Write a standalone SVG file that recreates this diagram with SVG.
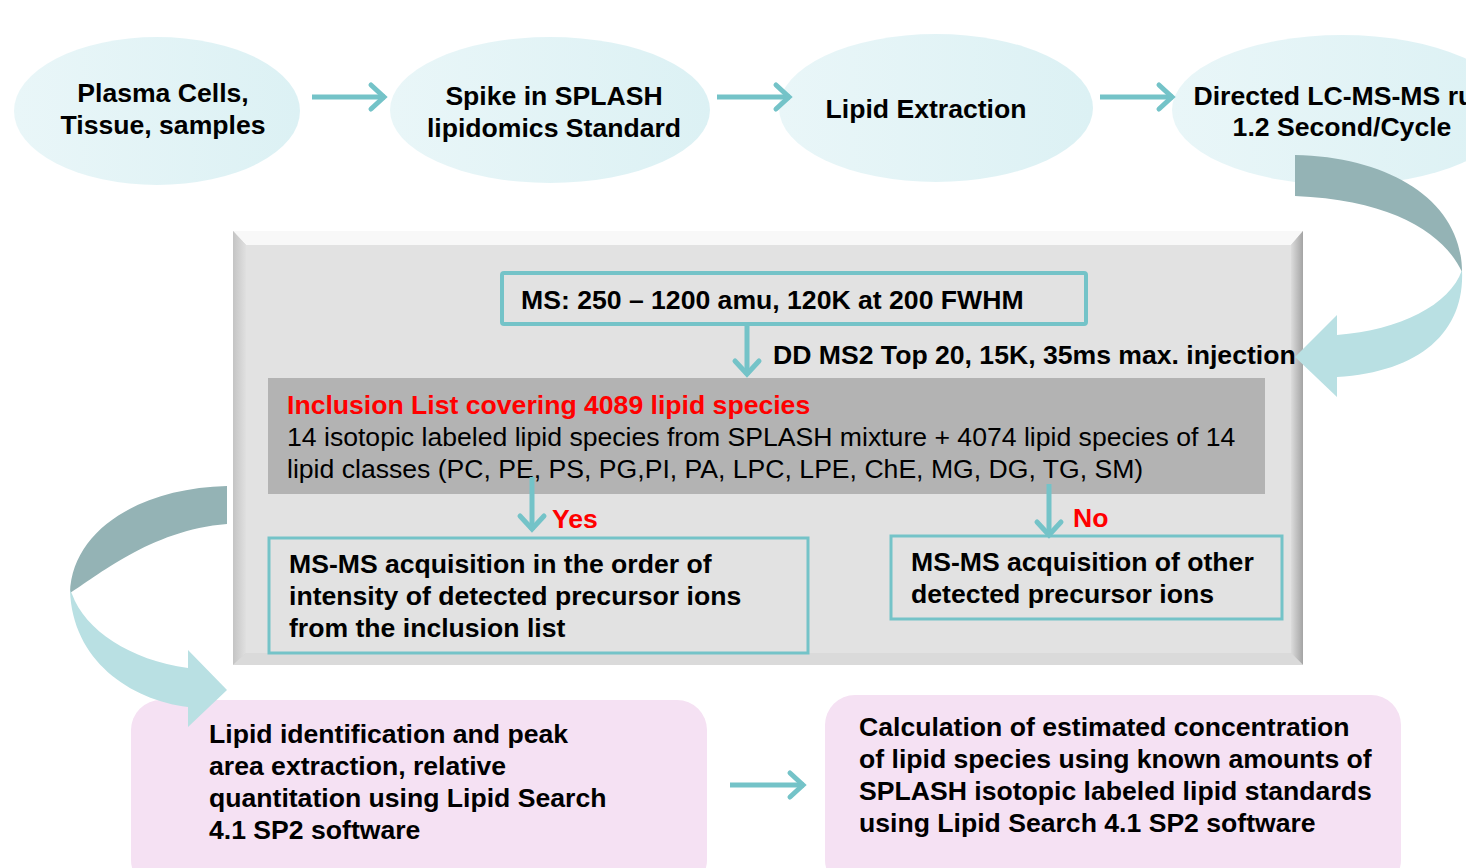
<svg xmlns="http://www.w3.org/2000/svg" width="1466" height="868" viewBox="0 0 1466 868">
<style>
.t{font-family:"Liberation Sans",Arial,sans-serif;font-size:26.6px;font-weight:bold;fill:#000}
.r{font-family:"Liberation Sans",Arial,sans-serif;font-size:26.6px;fill:#000}
.red{fill:#ff0000}
.m{text-anchor:middle}
.ell{fill:url(#eg)}
.conn{stroke:#74c3c8;stroke-width:5;fill:none}
.box{fill:none;stroke:#74c3c8;stroke-width:3}
.pink{fill:#f5e1f3}
.dark{fill:#94b3b5}
.light{fill:#b9e0e3}
</style>
<defs>
<linearGradient id="eg" x1="0" y1="0" x2="1" y2="0">
<stop offset="0" stop-color="#e9f6f8"/>
<stop offset="1" stop-color="#dcf1f4"/>
</linearGradient>
<linearGradient id="lb" x1="0" y1="0" x2="1" y2="0">
<stop offset="0" stop-color="#c4c4c4"/>
<stop offset="1" stop-color="#e0e0e0"/>
</linearGradient>
<linearGradient id="rb" x1="0" y1="0" x2="1" y2="0">
<stop offset="0" stop-color="#dcdcdc"/>
<stop offset="1" stop-color="#a4a4a4"/>
</linearGradient>
<marker id="ah" markerUnits="userSpaceOnUse" markerWidth="40" markerHeight="40" viewBox="-20 -20 40 40" refX="0" refY="0" orient="auto">
<path d="M-14,-12 L-1,0 L-14,12" fill="none" stroke="#74c3c8" stroke-width="5" stroke-linecap="round"/>
</marker>
</defs>

<g id="n1"><ellipse class="ell" cx="157" cy="111" rx="143" ry="74"/>
<text class="t m" x="163" y="102">Plasma Cells,</text>
<text class="t m" x="163" y="134">Tissue, samples</text></g>

<g id="n2"><ellipse class="ell" cx="550" cy="110" rx="160" ry="73"/>
<text class="t m" x="554" y="105">Spike in SPLASH</text>
<text class="t m" x="554" y="137">lipidomics Standard</text></g>

<g id="n3"><ellipse class="ell" cx="936" cy="108" rx="157" ry="74"/>
<text class="t m" x="926" y="118">Lipid Extraction</text></g>

<g id="n4"><ellipse class="ell" cx="1342" cy="110" rx="170" ry="75"/>
<text class="t m" x="1342" y="105">Directed LC-MS-MS run</text>
<text class="t m" x="1342" y="136">1.2 Second/Cycle</text></g>

<g id="panel">
<rect x="233" y="231" width="1070" height="434" fill="#d4d4d4"/>
<polygon points="233,231 1303,231 1291,245 246,245" fill="#f8f8f8"/>
<polygon points="233,231 246,245 246,653 233,665" fill="url(#lb)"/>
<polygon points="1303,231 1303,665 1291,653 1291,245" fill="url(#rb)"/>
<polygon points="233,665 1303,665 1291,653 246,653" fill="#dadada"/>
<rect x="246" y="245" width="1045" height="408" fill="#e2e2e2"/>
</g>

<g id="ms"><rect x="502" y="273" width="584" height="51" fill="none" stroke="#74c3c8" stroke-width="4" rx="2"/>
<text class="t" x="521" y="309">MS: 250 – 1200 amu, 120K at 200 FWHM</text></g>

<g id="dd"><text class="t" x="773" y="364">DD MS2 Top 20, 15K, 35ms max. injection</text></g>

<g id="incl"><rect x="268" y="378" width="997" height="116" fill="#b3b3b3"/>
<text class="t red" x="287" y="414">Inclusion List covering 4089 lipid species</text>
<text class="r" x="287" y="446">14 isotopic labeled lipid species from SPLASH mixture + 4074 lipid species of 14</text>
<text class="r" x="287" y="478">lipid classes (PC, PE, PS, PG,PI, PA, LPC, LPE, ChE, MG, DG, TG, SM)</text></g>

<g id="yes"><rect class="box" x="269" y="538" width="539" height="115"/>
<text class="t" x="289" y="573">MS-MS acquisition in the order of</text>
<text class="t" x="289" y="605">intensity of detected precursor ions</text>
<text class="t" x="289" y="637">from the inclusion list</text></g>

<g id="no"><rect class="box" x="891" y="536" width="391" height="83"/>
<text class="t" x="911" y="571">MS-MS acquisition of other</text>
<text class="t" x="911" y="603">detected precursor ions</text></g>

<g id="p1"><rect class="pink" x="131" y="700" width="576" height="190" rx="30"/>
<text class="t" x="209" y="743">Lipid identification and peak</text>
<text class="t" x="209" y="775">area extraction, relative</text>
<text class="t" x="209" y="807">quantitation using Lipid Search</text>
<text class="t" x="209" y="839">4.1 SP2 software</text></g>

<g id="p2"><rect class="pink" x="825" y="695" width="576" height="195" rx="30"/>
<text class="t" x="859" y="736">Calculation of estimated concentration</text>
<text class="t" x="859" y="768">of lipid species using known amounts of</text>
<text class="t" x="859" y="800">SPLASH isotopic labeled lipid standards</text>
<text class="t" x="859" y="832">using Lipid Search 4.1 SP2 software</text></g>

<g id="connectors">
<path class="conn" d="M312,97 L385,97" marker-end="url(#ah)"/>
<path class="conn" d="M717,97 L790,97" marker-end="url(#ah)"/>
<path class="conn" d="M1100,97 L1173,97" marker-end="url(#ah)"/>
<path class="conn" d="M747,325 L747,375" marker-end="url(#ah)"/>
<path class="conn" d="M532,477 L532,530" marker-end="url(#ah)"/>
<path class="conn" d="M1049,484 L1049,536" marker-end="url(#ah)"/>
<path class="conn" d="M730,785 L804,785" marker-end="url(#ah)"/>
<path class="dark" d="M1295,155 C1392,157 1462,202 1462,272 C1445,235 1395,200 1295,196 Z"/>
<path class="light" d="M1462,270 C1465,332 1420,372 1337,377 L1337,397 L1295,357 L1337,315 L1337,335 C1400,330 1450,305 1462,270 Z"/>
<path class="dark" d="M227,486 C140,488 72,530 70,593 C95,578 150,530 227,524 Z"/>
<path class="light" d="M70,590 C72,660 130,700 188,707 L188,727 L227,690 L188,650 L188,668 C130,660 85,630 72,594 Z"/>
</g>
<text class="t red" x="552" y="528">Yes</text>
<text class="t red" x="1073" y="527">No</text>
</svg>
